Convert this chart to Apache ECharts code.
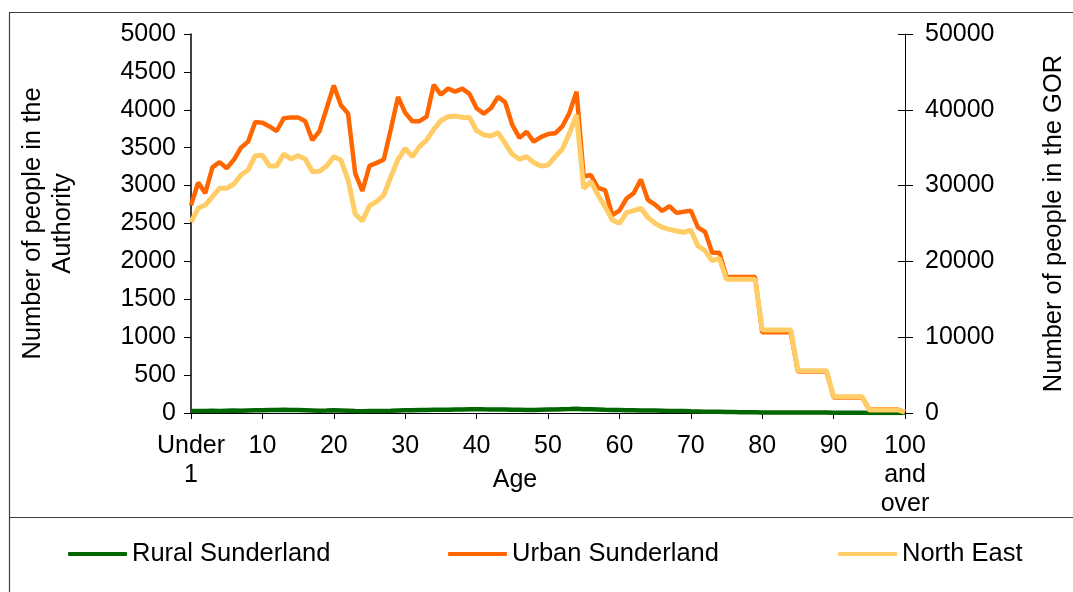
<!DOCTYPE html>
<html>
<head>
<meta charset="utf-8">
<style>
  html, body { margin: 0; padding: 0; background: #fff; }
  #chart { width: 1073px; height: 592px; }
</style>
<script src="https://cdn.jsdelivr.net/npm/echarts@6/dist/echarts.min.js"></script>
</head>
<body>
<div id="chart"></div>
<script>
// single years of age, 0 .. 100
const ages = Array.from({ length: 101 }, (_, i) => String(i));
const tickAges = [0, 10, 20, 30, 40, 50, 60, 70, 80, 90, 100];
const tickLabels = ['Under\n1', '10', '20', '30', '40', '50', '60', '70', '80', '90', '100\nand\nover'];

const rural = [
  25, 28, 26, 30, 28, 30, 32, 30, 33, 35,
  35, 38, 40, 42, 40, 38, 36, 33, 30, 32,
  35, 33, 30, 25, 22, 25, 27, 28, 30, 33,
  35, 36, 38, 40, 42, 43, 44, 45, 46, 48,
  50, 48, 47, 46, 45, 44, 42, 40, 41, 43,
  45, 47, 50, 52, 55, 50, 48, 45, 42, 40,
  38, 36, 35, 34, 33, 32, 30, 28, 26, 25,
  22, 20, 18, 16, 15, 13, 12, 11, 10, 9,
  8, 8, 8, 8, 8, 5, 5, 5, 5, 5,
  2, 2, 2, 2, 2, 1, 1, 1, 1, 1,
  0
];
const urban = [
  2740, 3040, 2900, 3240, 3310, 3230, 3340, 3500, 3580, 3840,
  3830, 3780, 3720, 3890, 3900, 3900, 3850, 3600, 3720, 4020,
  4320, 4060, 3950, 3160, 2930, 3260, 3300, 3345, 3750, 4170,
  3960, 3850, 3850, 3910, 4330, 4200, 4280, 4240, 4280, 4210,
  4020, 3950, 4020, 4170, 4100, 3800, 3630, 3710, 3580, 3640,
  3680, 3690, 3780, 3960, 4240, 3120, 3140, 2970, 2940, 2610,
  2670, 2830, 2900, 3080, 2810, 2750, 2665, 2730, 2640, 2656,
  2670, 2450, 2390, 2115, 2115, 1795, 1795, 1795, 1795, 1795,
  1065, 1065, 1065, 1065, 1065, 548, 548, 548, 548, 548,
  205, 205, 205, 205, 205, 45, 45, 45, 45, 45,
  15
];
const northEast = [
  25200, 27000, 27440, 28540, 29640, 29640, 30210, 31400, 32060, 33950,
  34000, 32590, 32590, 34170, 33510, 33950, 33510, 31840, 31900, 32590,
  33820, 33380, 30740, 26250, 25330, 27350, 27880, 28760, 31180, 33470,
  34920, 33820, 35140, 36020, 37420, 38560, 39090, 39180, 39000, 39000,
  37240, 36680, 36550, 36990, 35580, 34130, 33470, 33820, 33030, 32590,
  32700, 33820, 34790, 36900, 39310, 29640, 30520, 28760, 27220, 25460,
  25020, 26430, 26690, 27000, 25810, 25020, 24500, 24230, 24010, 23840,
  24140, 22030, 21410, 20090, 20400, 17640, 17640, 17640, 17640, 17640,
  10950, 10950, 10950, 10950, 10950, 5580, 5580, 5580, 5580, 5580,
  2150, 2150, 2150, 2150, 2150, 400, 400, 400, 400, 400,
  100
];

const FONT = "'Liberation Sans', Arial, sans-serif";
const txt = { color: '#000', fontFamily: FONT, fontSize: 25 };

const chart = echarts.init(document.getElementById('chart'), null, { renderer: 'canvas' });

function legendAt(left, name) {
  return {
    left: left,
    top: 541,
    padding: 0,
    icon: 'roundRect',
    itemWidth: 59,
    itemHeight: 4,
    textStyle: Object.assign({}, txt, { fontSize: 25.5 }),
    data: [name]
  };
}

chart.setOption({
  backgroundColor: '#fff',
  animation: false,
  grid: { left: 191, right: 168, top: 34, bottom: 179, outerBoundsMode: 'none' },
  legend: [
    legendAt(68, 'Rural Sunderland'),
    legendAt(448, 'Urban Sunderland'),
    legendAt(838, 'North East')
  ],
  graphic: [
    { type: 'rect', shape: { x: 9.5, y: 12.5, width: 1100, height: 620 },
      style: { fill: 'none', stroke: '#404040', lineWidth: 1.2 } },
    { type: 'line', shape: { x1: 9.5, y1: 517.5, x2: 1073, y2: 517.5 },
      style: { stroke: '#404040', lineWidth: 1.2 } }
  ],
  xAxis: {
    type: 'category',
    data: ages,
    boundaryGap: false,
    name: 'Age',
    nameLocation: 'middle',
    nameGap: 55,
    nameMoveOverlap: false,
    nameTextStyle: Object.assign({}, txt, { padding: [0, 66, 0, 0] }),
    axisLine: { lineStyle: { color: '#000', width: 1 } },
    axisTick: { interval: (i) => tickAges.includes(i), length: 6, lineStyle: { color: '#000' } },
    axisLabel: Object.assign({}, txt, {
      lineHeight: 29,
      margin: 19,
      interval: (i) => tickAges.includes(i),
      formatter: (v, i) => tickLabels[tickAges.indexOf(i)]
    }),
    splitLine: { show: false }
  },
  yAxis: [
    {
      type: 'value',
      min: 0, max: 5000, interval: 500,
      name: 'Number of people in the\nAuthority',
      nameLocation: 'middle',
      nameRotate: 90,
      nameGap: 113,
      nameMoveOverlap: false,
      nameTextStyle: Object.assign({}, txt, { fontSize: 25.5, lineHeight: 30 }),
      axisLine: { show: true, lineStyle: { color: '#000', width: 1.5 } },
      axisTick: { show: true, length: 7, lineStyle: { color: '#000' } },
      axisLabel: Object.assign({}, txt, { margin: 15, formatter: (v) => String(v) }),
      splitLine: { show: false }
    },
    {
      type: 'value',
      position: 'right',
      min: 0, max: 50000, interval: 10000,
      name: 'Number of people in the GOR',
      nameLocation: 'middle',
      nameRotate: 90,
      nameGap: 136,
      nameMoveOverlap: false,
      nameTextStyle: Object.assign({}, txt, { fontSize: 25.5 }),
      axisLine: { show: true, lineStyle: { color: '#000', width: 1 } },
      axisTick: { show: true, length: 8, lineStyle: { color: '#000' } },
      axisLabel: Object.assign({}, txt, { margin: 20, formatter: (v) => String(v) }),
      splitLine: { show: false }
    },
    {
      type: 'value',
      position: 'right',
      min: 0, max: 50000, interval: 10000,
      axisLine: { show: false },
      axisTick: { show: true, inside: true, length: 7, lineStyle: { color: '#000' } },
      axisLabel: { show: false },
      splitLine: { show: false }
    }
  ],
  series: [
    {
      name: 'Rural Sunderland', type: 'line', yAxisIndex: 0, data: rural,
      symbol: 'none', color: '#006600', lineStyle: { color: '#006600', width: 4.5 }
    },
    {
      name: 'Urban Sunderland', type: 'line', yAxisIndex: 0, data: urban,
      symbol: 'none', color: '#FF6600', lineStyle: { color: '#FF6600', width: 4.5 }
    },
    {
      name: 'North East', type: 'line', yAxisIndex: 1, data: northEast,
      symbol: 'none', color: '#FFCC66', lineStyle: { color: '#FFCC66', width: 5 }
    }
  ]
});
</script>
</body>
</html>
